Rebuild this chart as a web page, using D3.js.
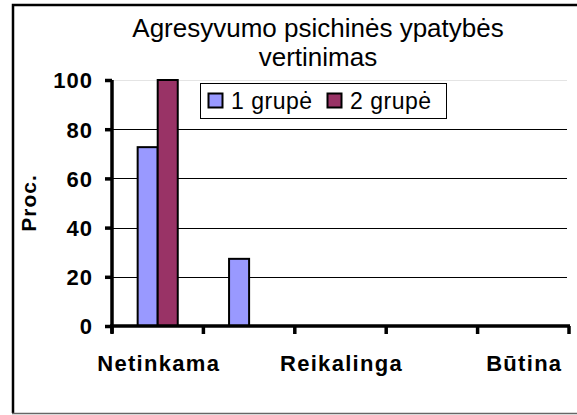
<!DOCTYPE html>
<html>
<head>
<meta charset="utf-8">
<script src="https://cdn.jsdelivr.net/npm/d3@7"></script>
<style>
  html, body { margin: 0; padding: 0; background: #fff; overflow: hidden; }
  svg { display: block; font-family: Arial, "Liberation Sans", sans-serif; }
</style>
</head>
<body>
<script>
const width = 577;
const height = 415;

// categories (only every second label fits, as in the original)
const categories = ["Netinkama", "c2", "Reikalinga", "c4", "Būtina"];
const categoryLabels = ["Netinkama", "", "Reikalinga", "", "Būtina"];
const seriesNames = ["1 grupė", "2 grupė"];
const group1 = [72.7, 27.3, 0, 0, 0];
const group2 = [100, 0, 0, 0, 0];
const yTicks = [0, 20, 40, 60, 80, 100];
const colors = ["#9999ff", "#993366"];
const axisColor = "#000";

const svg = d3.select("body").append("svg")
  .attr("width", width)
  .attr("height", height)
  .attr("viewBox", [0, 0, width, height]);

// outer frame
svg.append("path")
  .attr("d", `M${width},5H13V413`)
  .attr("fill", "none")
  .style("stroke", "#000")
  .style("stroke-width", "2.5px");
svg.append("path")
  .attr("d", `M12,413.5H${width}`)
  .style("stroke", "#666")
  .style("stroke-width", "1.5px");

const x0 = d3.scaleBand().domain(categories).range([112, 569]);
const x1 = d3.scaleBand().domain(seriesNames).range([0, x0.bandwidth()]).paddingOuter(1.28);
const y = d3.scaleLinear().domain([0, 100]).range([326, 80]);

// title
const title = svg.append("text")
  .attr("text-anchor", "middle")
  .style("font-size", "26px");
title.append("tspan").attr("x", 318).attr("y", 37).text("Agresyvumo psichinės ypatybės");
title.append("tspan").attr("x", 318).attr("y", 66).text("vertinimas");

// gridlines
svg.append("g")
  .selectAll("line")
  .data(yTicks.filter(d => d > 0))
  .join("line")
  .attr("x1", 112).attr("x2", 567)
  .attr("y1", d => Math.round(y(d)) + 0.5)
  .attr("y2", d => Math.round(y(d)) + 0.5)
  .style("stroke", d => d === 100 ? "#e4e4e4" : "#000")
  .style("stroke-width", "1px");

// bars
const rows = categories.map((c, i) => ({cat: c, vals: [group1[i], group2[i]]}));
svg.append("g")
  .selectAll("g")
  .data(rows)
  .join("g")
  .attr("transform", d => `translate(${x0(d.cat)},0)`)
  .selectAll("rect")
  .data(d => d.vals.map((v, j) => ({name: seriesNames[j], v, j})).filter(e => e.v > 0))
  .join("rect")
  .attr("x", d => x1(d.name))
  .attr("y", d => y(d.v))
  .attr("width", x1.bandwidth())
  .attr("height", d => y(0) - y(d.v))
  .attr("fill", d => colors[d.j])
  .style("stroke", "#000")
  .style("stroke-width", "2px");

// y axis
const yAxis = svg.append("g")
  .attr("transform", "translate(112,0)")
  .call(d3.axisLeft(y).tickValues(yTicks).tickSize(7).tickPadding(12).tickSizeOuter(0));
yAxis.select(".domain")
  .attr("d", `M0,${y(100)}V${y(0) + 7}`)
  .style("stroke", axisColor)
  .style("stroke-width", "3.5px");
yAxis.selectAll(".tick line")
  .style("stroke", axisColor)
  .style("stroke-width", "3.5px");
yAxis.selectAll(".tick text")
  .attr("dy", "0.36em")
  .style("font-family", "Arial, 'Liberation Sans', sans-serif")
  .style("font-size", "22px")
  .style("font-weight", "bold")
  .style("letter-spacing", "1px")
  .style("fill", "#000");

// x axis, ticks on the band boundaries
const xb = categories.map(c => x0(c)).concat([x0.range()[1]]);
const xAxis = svg.append("g");
xAxis.append("path")
  .attr("d", `M110,${y(0)}H570`)
  .style("stroke", axisColor)
  .style("stroke-width", "3.5px");
xAxis.selectAll("path.xt")
  .data(xb)
  .join("path")
  .attr("class", "xt")
  .attr("d", d => `M${d},${y(0)}V${y(0) + 8}`)
  .style("stroke", axisColor)
  .style("stroke-width", "3.5px");
xAxis.selectAll("text")
  .data(categories.map((c, i) => ({c, label: categoryLabels[i]})).filter(d => d.label))
  .join("text")
  .attr("x", d => x0(d.c) + x0.bandwidth() / 2 + 1)
  .attr("y", 371)
  .attr("text-anchor", "middle")
  .style("font-size", "22px")
  .style("font-weight", "bold")
  .style("letter-spacing", "1.3px")
  .text(d => d.label);

// y axis title
svg.append("text")
  .attr("transform", "translate(36,203) rotate(-90)")
  .attr("text-anchor", "middle")
  .style("font-size", "21px")
  .style("font-weight", "bold")
  .style("letter-spacing", "1px")
  .text("Proc.");

// legend
const legend = svg.append("g").attr("transform", "translate(200,83)");
legend.append("rect")
  .attr("x", 0.5).attr("y", 0.5)
  .attr("width", 246).attr("height", 35)
  .attr("fill", "#fff")
  .style("stroke", "#000")
  .style("stroke-width", "1px");
const items = legend.selectAll("g.item")
  .data(seriesNames)
  .join("g")
  .attr("class", "item")
  .attr("transform", (d, i) => `translate(${8 + i * 119},0)`);
items.append("rect")
  .attr("x", 0.5).attr("y", 10.5)
  .attr("width", 14).attr("height", 14)
  .attr("fill", (d, i) => colors[i])
  .style("stroke", "#000")
  .style("stroke-width", "2px");
items.append("text")
  .attr("x", 23).attr("y", 26)
  .style("font-size", "23px")
  .style("letter-spacing", "0.5px")
  .text(d => d);
</script>
</body>
</html>
